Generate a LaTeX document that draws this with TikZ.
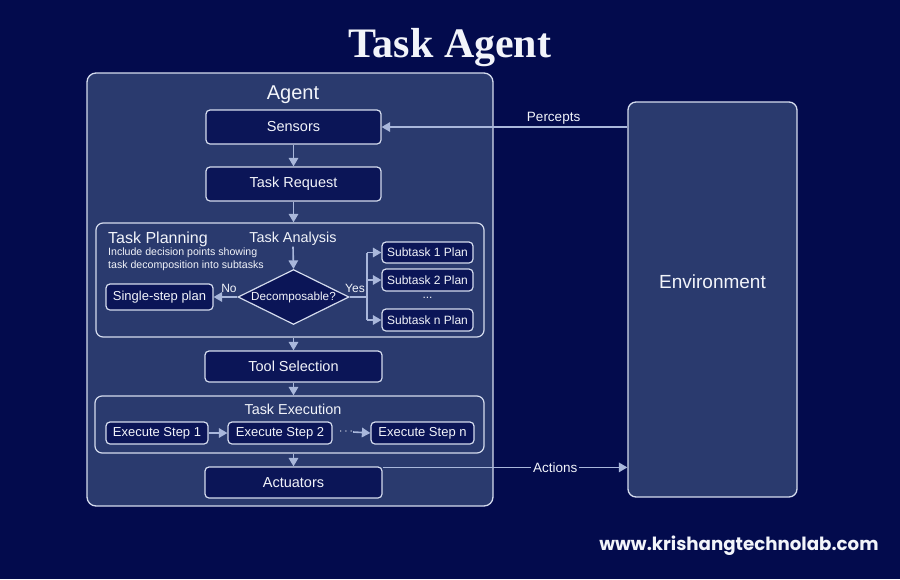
\documentclass[tikz,border=0pt]{standalone}
\usepackage{fontspec}
\setmainfont{Liberation Sans}
\newfontfamily\titlefont{Liberation Serif}
\newfontfamily\webfont{Poppins}
\usetikzlibrary{shapes.geometric,arrows.meta,calc}
\definecolor{bgc}{HTML}{030B4D}
\definecolor{agentfill}{HTML}{2A3A6E}
\definecolor{boxfill}{HTML}{0B1557}
\definecolor{edgec}{HTML}{D5DCEE}
\definecolor{arrc}{HTML}{A9B7DB}
\definecolor{txt}{HTML}{F2F4FA}
\tikzset{
  frame/.style={draw=edgec, line width=1.3pt, rounded corners=9pt, fill=agentfill},
  subframe/.style={draw=edgec, line width=1.2pt, rounded corners=7pt},
  box/.style={draw=edgec, line width=1.2pt, rounded corners=4pt, fill=boxfill, text=txt,
    font=\fontsize{14.5}{17}\selectfont, inner sep=0pt},
  smallbox/.style={box, font=\fontsize{12}{14}\selectfont},
  midbox/.style={box, font=\fontsize{13}{15}\selectfont},
  conn/.style={draw=arrc, line width=1.6pt, -{Triangle[length=8.5pt,width=9.5pt]}},
  plain/.style={draw=arrc, line width=1.6pt},
  lbl/.style={text=txt, inner sep=1pt},
}
\begin{document}
\begin{tikzpicture}[x=1pt,y=-1pt]
\fill[bgc] (0,0) rectangle (900,579);
\useasboundingbox (0,0) rectangle (900,579);

% title
\node[lbl, anchor=base, font=\titlefont\bfseries\fontsize{42}{48}\selectfont] (title) at (450,57) {Task Agent};

% agent frame
\node[frame, minimum width=406pt, minimum height=433pt] (agent) at (290,289.5) {};
\node[lbl, anchor=base, font=\fontsize{20}{24}\selectfont] (agentlbl) at (293,99) {Agent};

% environment
\node[frame, rounded corners=8pt, minimum width=169pt, minimum height=395pt] (env) at (712.5,299.5) {};
\node[lbl, font=\fontsize{19}{22}\selectfont] (envlbl) at (712.5,282) {Environment};

% main column
\node[box, minimum width=175pt, minimum height=34pt] (sens) at (293.5,127) {Sensors};
\node[box, minimum width=175pt, minimum height=34pt] (treq) at (293.5,184) {Task Request};

% task planning frame
\node[subframe, minimum width=388pt, minimum height=114pt] (plan) at (290,280) {};
\node[lbl, anchor=base west, font=\fontsize{16}{19}\selectfont] (planlbl) at (107,243) {Task Planning};
\node[lbl, anchor=north west, align=left, font=\fontsize{10.6}{13}\selectfont] (plannote) at (107,247)
  {Include decision points showing\\task decomposition into subtasks};
\node[lbl, anchor=base, font=\fontsize{14.4}{17}\selectfont] (ta) at (293,242.5) {Task Analysis};
\node[diamond, draw=edgec, line width=1.2pt, fill=boxfill, text=txt, inner sep=0pt,
  minimum width=111pt, minimum height=55pt, font=\fontsize{11.7}{14}\selectfont] (dec) at (293.5,297)
  {\makebox[0pt]{Decomposable?}};
\node[midbox, minimum width=107pt, minimum height=26pt] (single) at (159.5,297) {Single-step plan};
\node[smallbox, minimum width=91pt, minimum height=21pt] (s1) at (427.5,252.5) {Subtask 1 Plan};
\node[smallbox, minimum width=91pt, minimum height=22pt] (s2) at (427.5,280) {Subtask 2 Plan};
\node[lbl, font=\fontsize{12}{14}\selectfont] (sdots) at (427.5,298) {...};
\node[smallbox, minimum width=91pt, minimum height=22pt] (sn) at (427.5,320) {Subtask n Plan};
\coordinate (bus) at (367,297);

% tool selection
\node[box, minimum width=177pt, minimum height=31pt] (tool) at (293.5,366.5) {Tool Selection};

% task execution frame
\node[subframe, minimum width=389pt, minimum height=57pt] (exec) at (289.5,424.5) {};
\node[lbl, anchor=base, font=\fontsize{14.4}{17}\selectfont] (execlbl) at (293,414.5) {Task Execution};
\node[midbox, minimum width=102pt, minimum height=22pt] (e1) at (157,433) {Execute Step 1};
\node[midbox, minimum width=104pt, minimum height=22pt] (e2) at (280,433) {Execute Step 2};
\node[midbox, minimum width=103pt, minimum height=22pt] (en) at (422.5,433) {Execute Step n};
\node[lbl, font=\fontsize{13}{15}\selectfont, inner sep=0pt] (edots) at (346,432) {$\cdots$};

% actuators
\node[box, minimum width=177pt, minimum height=31pt] (act) at (293.5,482.5) {Actuators};

% connectors in column
\draw[conn] (sens.south) -- (treq.north);
\draw[conn] (treq.south) -- (treq.south |- plan.north);
\draw[conn] (ta.south) -- (dec.north);
\draw[conn] (dec.west) -- (single.east);
\node[lbl, font=\fontsize{12}{14}\selectfont] (nolbl) at (229,288) {No};
\node[lbl, font=\fontsize{12}{14}\selectfont] (yeslbl) at (355,288) {Yes};
\draw[plain] (dec.east) -- (bus);
\draw[plain] (bus |- s1.west) -- (bus |- sn.west);
\draw[conn] (bus |- s1.west) -- (s1.west);
\draw[conn] (bus |- s2.west) -- (s2.west);
\draw[conn] (bus |- sn.west) -- (sn.west);
\draw[conn] (tool.north |- plan.south) -- (tool.north);
\draw[conn] (tool.south) -- (tool.south |- exec.north);
\draw[conn] (e1.east) -- (e2.west);
\draw[conn] (edots.east) -- (en.west);
\draw[conn] (act.north |- exec.south) -- (act.north);

% percepts and actions
\draw[conn] (env.west |- sens.east) -- node[pos=0.3, above=1pt, lbl, font=\fontsize{13.5}{16}\selectfont] (perc) {Percepts} (sens.east);
\coordinate (actout) at ($(act.north east)+(0,1)$);
\draw[conn] (actout) -- node[pos=0.705, lbl, fill=bgc, inner sep=2pt, font=\fontsize{13.5}{16}\selectfont] (actlbl) {Actions} (actout -| env.west);

% website
\node[lbl, font=\webfont\bfseries\fontsize{18.2}{21}\selectfont] (web) at (739,546) {www.krishangtechnolab.com};
\end{tikzpicture}
\end{document}
